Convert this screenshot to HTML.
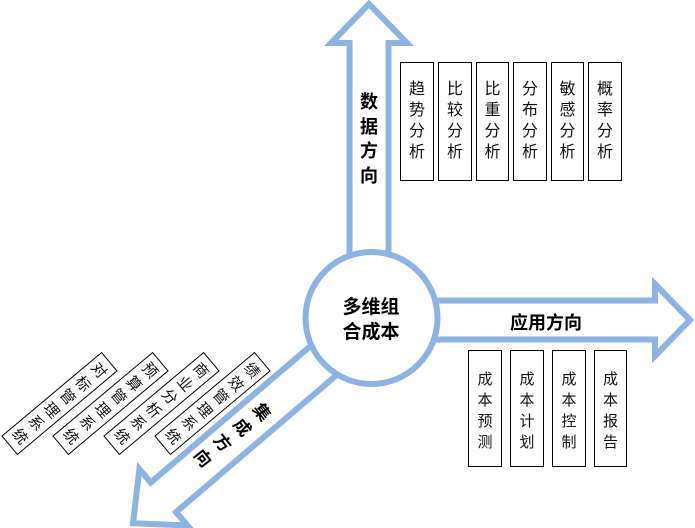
<!DOCTYPE html>
<html><head><meta charset="utf-8"><style>
body{margin:0;width:695px;height:528px;background:#fff;position:relative;overflow:hidden;font-family:"Liberation Sans","Noto Sans CJK SC",sans-serif;}
.b{position:absolute;border:1.3px solid #000;box-sizing:border-box;background:#fff;text-align:center;font-size:16px;line-height:21px;color:#111;}
.t{position:absolute;font-weight:bold;color:#000;}
.r{position:absolute;width:25px;height:131px;border:1.3px solid #000;box-sizing:border-box;background:#fff;transform:rotate(50deg);font-size:15px;line-height:20.5px;text-align:center;padding-top:4px;color:#111;}
</style></head><body>
<svg width="695" height="528" style="position:absolute;left:0;top:0">
<g fill="#fff" stroke="#8db3e2" stroke-width="6" stroke-linejoin="miter">
<path transform="translate(369,320) rotate(-90)" d="M40,-19.5 L277,-19.5 L277,-38 L316,0 L277,38 L277,19.5 L40,19.5 Z"/>
<path transform="translate(371,320)" d="M40,-19.5 L284,-19.5 L284,-36 L319,0 L284,36 L284,19.5 L40,19.5 Z"/>
<path transform="translate(371,320) rotate(139.5)" d="M40,-19.5 L273,-19.5 L273,-37 L313,0 L273,37 L273,19.5 L40,19.5 Z"/>
<circle cx="371.5" cy="318" r="66"/>
</g>
</svg>
<div class="t" style="left:358px;top:90px;width:22px;font-size:18px;line-height:24.5px;text-align:center">数据方向</div>
<div class="t" style="left:510px;top:312px;font-size:18px;line-height:22px">应用方向</div>
<div class="t" style="left:331px;top:295px;width:80px;font-size:19px;line-height:25px;text-align:center">多维组<br>合成本</div>
<div class="b" style="left:400px;top:62px;width:34px;height:119px;padding-top:16px">趋<br>势<br>分<br>析</div>
<div class="b" style="left:438px;top:62px;width:34px;height:119px;padding-top:16px">比<br>较<br>分<br>析</div>
<div class="b" style="left:476px;top:62px;width:33px;height:119px;padding-top:16px">比<br>重<br>分<br>析</div>
<div class="b" style="left:513px;top:62px;width:34px;height:119px;padding-top:16px">分<br>布<br>分<br>析</div>
<div class="b" style="left:551px;top:62px;width:33px;height:119px;padding-top:16px">敏<br>感<br>分<br>析</div>
<div class="b" style="left:588px;top:62px;width:34px;height:119px;padding-top:16px">概<br>率<br>分<br>析</div>
<div class="b" style="left:468px;top:350px;width:34px;height:117px;padding-top:18px;font-size:15px;line-height:21px">成<br>本<br>预<br>测</div>
<div class="b" style="left:510px;top:350px;width:34px;height:117px;padding-top:18px;font-size:15px;line-height:21px">成<br>本<br>计<br>划</div>
<div class="b" style="left:552px;top:350px;width:34px;height:117px;padding-top:18px;font-size:15px;line-height:21px">成<br>本<br>控<br>制</div>
<div class="b" style="left:594px;top:350px;width:33px;height:117px;padding-top:18px;font-size:15px;line-height:21px">成<br>本<br>报<br>告</div>
<div class="r" style="left:200px;top:338px">绩<br>效<br>管<br>理<br>系<br>统</div>
<div class="r" style="left:149px;top:338px">商<br>业<br>分<br>析<br>系<br>统</div>
<div class="r" style="left:98px;top:338px">预<br>算<br>管<br>理<br>系<br>统</div>
<div class="r" style="left:47px;top:338px">对<br>标<br>管<br>理<br>系<br>统</div>
<div class="t" style="width:22px;height:100px;font-size:17px;line-height:25px;text-align:center;transform:rotate(52deg);transform-origin:11px 12px;left:251px;top:400px">集<br>成<br>方<br>向</div>
</body></html>
